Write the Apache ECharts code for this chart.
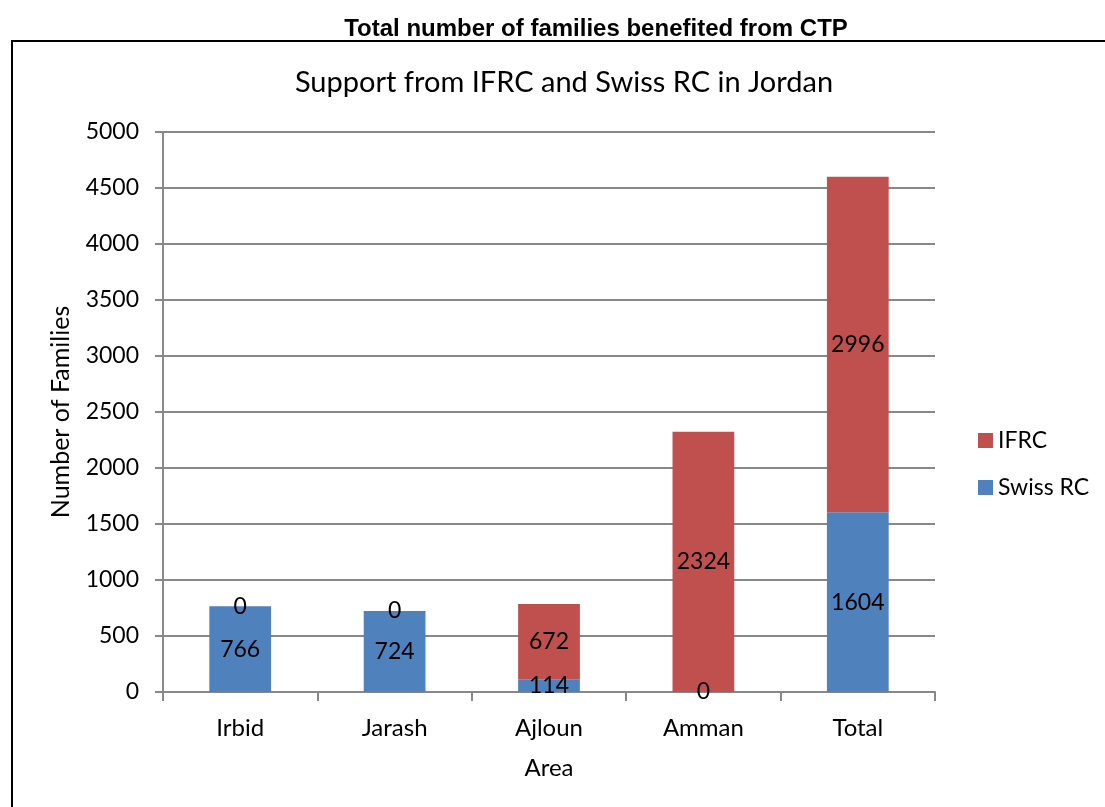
<!DOCTYPE html>
<html>
<head>
<meta charset="utf-8">
<script src="https://cdn.jsdelivr.net/npm/echarts@6/dist/echarts.min.js"></script>
<style>
  html, body { margin: 0; padding: 0; background: #fff; }
  #chart { width: 1105px; height: 807px; }
</style>
</head>
<body>
<div id="chart"></div>
<script>
// data
var areas = ['Irbid', 'Jarash', 'Ajloun', 'Amman', 'Total'];
var swissRC = [766, 724, 114, 0, 1604];
var ifrc = [0, 0, 672, 2324, 2996];
var yTicks = { min: 0, max: 5000, interval: 500 };

var FONT = 'Lato, "Open Sans", sans-serif';

var myChart = echarts.init(document.getElementById('chart'));

var option = {
  backgroundColor: '#fff',
  animation: false,
  title: [
    {
      text: 'Total number of families benefited from CTP',
      left: 591, top: 12, textAlign: 'center',
      textStyle: { fontFamily: '"Liberation Sans", Arial, sans-serif', fontWeight: 'bold', fontSize: 24, color: '#000' }
    },
    {
      text: 'Support from IFRC and Swiss RC in Jordan',
      left: 559, top: 63, textAlign: 'center',
      textStyle: { fontFamily: FONT, fontWeight: 'normal', fontSize: 29, color: '#000' }
    }
  ],
  graphic: [
    {
      type: 'rect',
      shape: { x: 12, y: 41, width: 1110, height: 800 },
      style: { fill: 'none', stroke: '#000', lineWidth: 2 },
      silent: true
    }
  ],
  legend: {
    orient: 'vertical',
    left: 973, top: 424,
    itemWidth: 15, itemHeight: 15, itemGap: 24,
    icon: 'rect',
    data: ['IFRC', 'Swiss RC'],
    textStyle: { fontFamily: FONT, fontSize: 23, color: '#000' }
  },
  grid: { left: 163, right: 170, top: 132, bottom: 115 },
  xAxis: {
    type: 'category',
    data: areas,
    name: 'Area',
    nameLocation: 'middle',
    nameGap: 64,
    nameTextStyle: { fontFamily: FONT, fontSize: 24, color: '#000' },
    axisLine: { lineStyle: { color: '#888', width: 2 } },
    axisTick: { show: true, length: 9, lineStyle: { color: '#888', width: 2 } },
    axisLabel: { fontFamily: FONT, fontSize: 24, color: '#000', margin: 24 }
  },
  yAxis: {
    type: 'value',
    min: yTicks.min, max: yTicks.max, interval: yTicks.interval,
    name: 'Number of Families',
    nameLocation: 'middle',
    nameGap: 90,
    nameTextStyle: { fontFamily: FONT, fontSize: 25, color: '#000' },
    axisLine: { show: true, lineStyle: { color: '#888', width: 2 } },
    axisTick: { show: true, length: 8, lineStyle: { color: '#888', width: 2 } },
    axisLabel: {
      fontFamily: FONT, fontSize: 23, color: '#000', margin: 24,
      formatter: function (v) { return String(v); }
    },
    splitLine: { lineStyle: { color: '#888', width: 2 } }
  },
  series: [
    {
      name: 'Swiss RC',
      type: 'bar',
      stack: 'total',
      barWidth: '40%',
      itemStyle: { color: '#4f81bd' },
      label: { show: true, position: 'inside', fontFamily: FONT, fontSize: 23, color: '#000' },
      data: swissRC
    },
    {
      name: 'IFRC',
      type: 'bar',
      stack: 'total',
      barWidth: '40%',
      itemStyle: { color: '#c0504d' },
      label: { show: true, position: 'inside', fontFamily: FONT, fontSize: 23, color: '#000' },
      data: ifrc
    }
  ]
};
myChart.setOption(option);
</script>
</body>
</html>
